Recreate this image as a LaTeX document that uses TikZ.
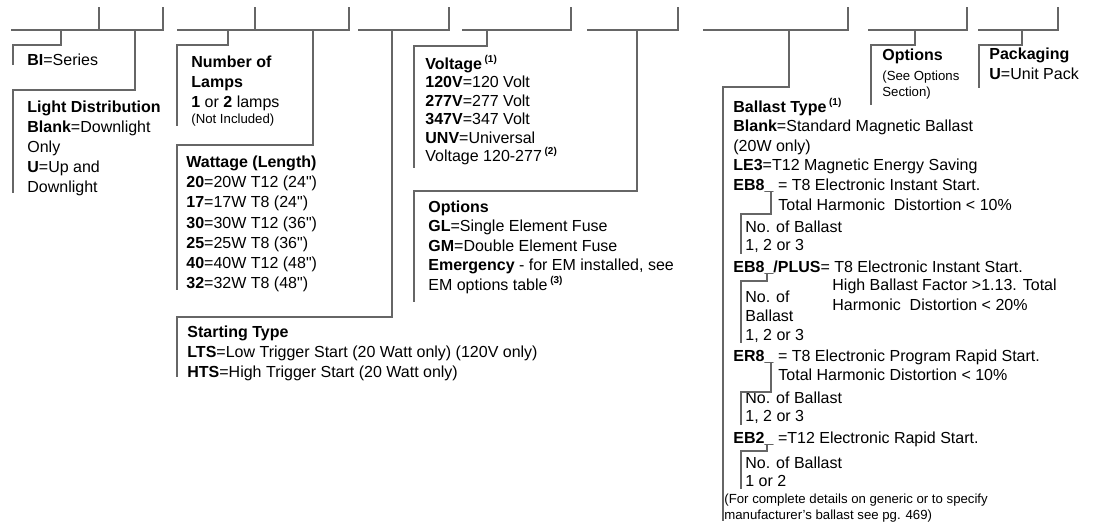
\documentclass[tikz,border=0pt]{standalone}
\usepackage{fontspec}
\setmainfont{Liberation Sans}
\newcommand{\ts}{\rule{0pt}{8pt}}
\newcommand{\fnote}[1]{\smash{\raisebox{3.5pt}{\fontsize{5}{6}\selectfont\bfseries #1}}}
\newcommand{\smalltxt}{\fontsize{6.6}{8}\selectfont}
\newcommand{\inch}{\textquotedbl}
\tikzset{
  leader/.style={draw=black!60, line width=0.75pt},
  desc/.style={anchor=north west, inner sep=0pt, align=left, font=\fontsize{8}{10}\selectfont},
}
\begin{document}
\begin{tikzpicture}[x=0.5pt, y=-0.5pt]
  \useasboundingbox (0,0) rectangle (1094,521);
  % Code boxes
  \foreach \a/\b in {11/163, 177/349, 358/449, 462/571, 587/678, 703/848, 868/967, 978/1058}
    \draw[leader] (\a,30) -- (\b,30) -- (\b,7);
  \foreach \t in {99, 255}
    \draw[leader] (\t,30) -- (\t,7);
  % Leaders from the code boxes
  \foreach \nm/\sx/\ky/\bx/\by in {bi/61/45/13/65, light/135/90/13/193, lamps/228/45/177/126,
      watt/313/145/177/290, start/392/317/177/377, volt/487/46/414/168, optmid/637/191/414/302,
      ballast/789/87/723/521, optright/915/45/871/105, pack/1022/45/979/88}
  {
    \coordinate (s-\nm) at (\sx,30);
    \coordinate (k-\nm) at (\bx,\ky);
    \coordinate (e-\nm) at (\bx,\by);
    \draw[leader] (s-\nm) |- (k-\nm) -- (e-\nm);
  }
  % Descriptions
  \node[desc] (bi) at (27,49) {\ts\textbf{BI}=Series};
  \node[desc] (light) at (27,96) {\ts\textbf{Light Distribution}\\ \textbf{Blank}=Downlight\\ Only\\
    \textbf{U}=Up and\\ Downlight};
  \node[desc] (lamps) at (191,51) {\ts\textbf{Number of}\\ \textbf{Lamps}\\ \textbf{1} or \textbf{2} lamps\\[-2pt]
    \smalltxt (Not Included)};
  \node[desc, font=\fontsize{8}{10.1}\selectfont] (watt) at (186,151) {\ts\textbf{Wattage (Length)}\\
    \textbf{20}=20W T12 (24\inch)\\ \textbf{17}=17W T8 (24\inch)\\ \textbf{30}=30W T12 (36\inch)\\
    \textbf{25}=25W T8 (36\inch)\\ \textbf{40}=40W T12 (48\inch)\\ \textbf{32}=32W T8 (48\inch)};
  \node[desc] (start) at (187,321) {\ts\textbf{Starting Type}\\
    \textbf{LTS}=Low Trigger Start (20 Watt only) (120V only)\\
    \textbf{HTS}=High Trigger Start (20 Watt only)};
  \node[desc, font=\fontsize{8}{9.2}\selectfont] (volt) at (425,53) {\ts\textbf{Voltage}\,\fnote{(1)}\\
    \textbf{120V}=120 Volt\\ \textbf{277V}=277 Volt\\ \textbf{347V}=347 Volt\\
    \textbf{UNV}=Universal\\ Voltage 120-277\,\fnote{(2)}};
  \node[desc, font=\fontsize{8}{9.75}\selectfont] (optmid) at (428,196) {\ts\textbf{Options}\\
    \textbf{GL}=Single Element Fuse\\ \textbf{GM}=Double Element Fuse\\
    \textbf{Emergency} - for EM installed, see\\ EM options table\,\fnote{(3)}};
  \node[desc] (optright) at (882,44) {\ts\textbf{Options}\\ \smalltxt (See Options\\[-2pt] \smalltxt Section)};
  \node[desc] (pack) at (989,43) {\ts\textbf{Packaging}\\ \textbf{U}=Unit Pack};
  % Ballast type
  \node[desc, font=\fontsize{8}{9.75}\selectfont] (ballast) at (733,96) {\ts\textbf{Ballast Type}\,\fnote{(1)}\\
    \textbf{Blank}=Standard Magnetic Ballast\\ (20W only)\\ \textbf{LE3}=T12 Magnetic Energy Saving\\
    \textbf{EB8\_}\ = T8 Electronic Instant Start.};
  \node[desc] (eb8thd) at (778,194) {\ts Total Harmonic\ \ Distortion < 10\%};
  \node[desc, font=\fontsize{8}{9}\selectfont] (eb8n) at (745,216) {\ts No. of Ballast\\ 1, 2 or 3};
  \node[desc] (plus) at (733,256) {\ts\textbf{EB8\_/PLUS}= T8 Electronic Instant Start.};
  \node[desc] (plusthd) at (832,274) {\ts High Ballast Factor >1.13. Total\\
    Harmonic\ \ Distortion < 20\%};
  \node[desc, font=\fontsize{8}{9.5}\selectfont] (plusn) at (745,286) {\ts No. of\\ Ballast\\ 1, 2 or 3};
  \node[desc] (er8) at (733,345) {\ts\textbf{ER8\_}\ = T8 Electronic Program Rapid Start.};
  \node[desc] (er8thd) at (778,364) {\ts Total Harmonic Distortion < 10\%};
  \node[desc, font=\fontsize{8}{9}\selectfont] (er8n) at (745,387) {\ts No. of Ballast\\ 1, 2 or 3};
  \node[desc] (eb2) at (733,427) {\ts\textbf{EB2\_}\ =T12 Electronic Rapid Start.};
  \node[desc, font=\fontsize{8}{9}\selectfont] (eb2n) at (745,452) {\ts No. of Ballast\\ 1 or 2};
  \node[desc, font=\fontsize{6.6}{8}\selectfont] (note) at (724,487) {\ts(For complete details on generic or to specify\\
    manufacturer's ballast see pg. 469)};
  % Ballast count leaders
  \foreach \nm/\sx/\sy/\ky/\by in {eb8/771/192/214/254, plus/767/274/281/343, er8/771/363/392/425, eb2/767/445/451/489}
  {
    \coordinate (u-\nm) at (\sx,\sy);
    \coordinate (c-\nm) at (741,\ky);
    \coordinate (f-\nm) at (741,\by);
    \draw[leader] (u-\nm) |- (c-\nm) -- (f-\nm);
  }
\end{tikzpicture}
\end{document}
